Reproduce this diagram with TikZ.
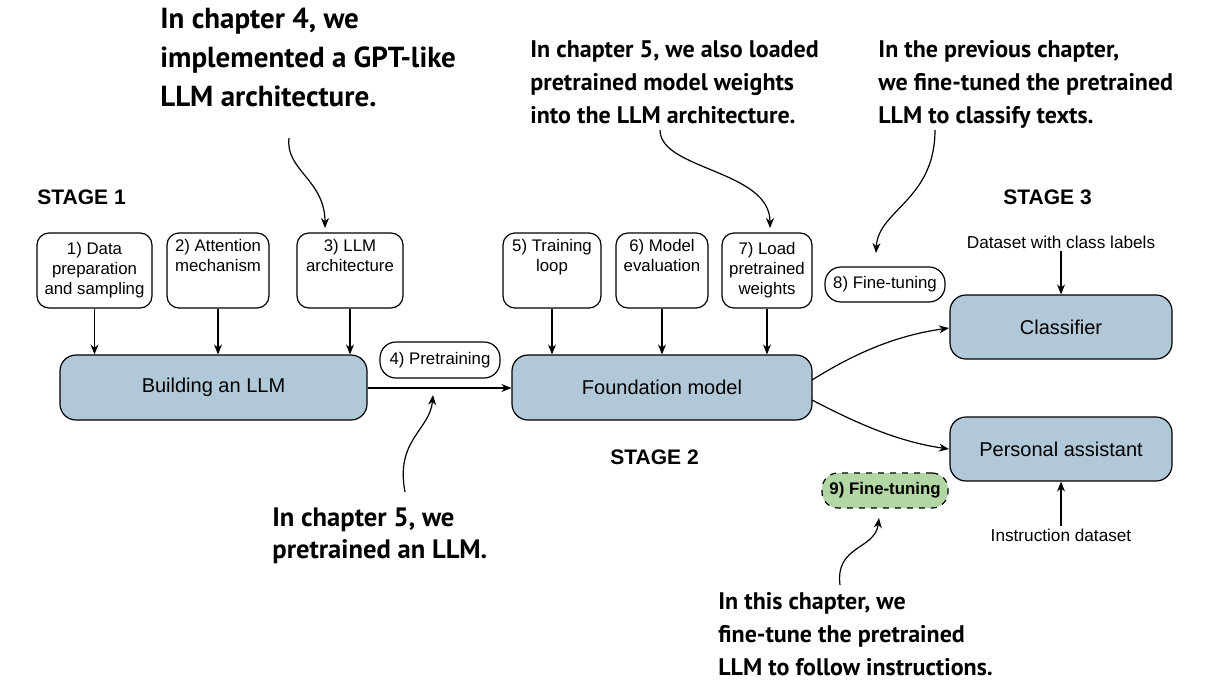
\documentclass[tikz,border=0pt]{standalone}
\usepackage{fontspec}
\setmainfont{Liberation Sans}
\newfontfamily\annf{PT Sans}
\usetikzlibrary{arrows.meta}
\begin{document}
\begin{tikzpicture}[x=0.5pt,y=-0.5pt,
 sbox/.style={draw,rounded corners=6pt,fill=white,align=center,font=\fontsize{8.4}{10}\selectfont,inner sep=1pt,line width=0.6pt},
 bbox/.style={draw,rounded corners=8pt,fill={rgb,255:red,176;green,200;blue,216},align=center,font=\fontsize{10}{12}\selectfont,line width=0.6pt},
 ann/.style={align=left,anchor=north west,font=\annf\bfseries\fontsize{12}{16.5}\selectfont,inner sep=0pt},
 stg/.style={font=\bfseries\fontsize{10.5}{12}\selectfont,anchor=west,inner sep=0pt},
 arr/.style={-{Stealth[length=5pt,width=4pt]},line width=0.6pt},
 lbl/.style={font=\fontsize{8.6}{10}\selectfont,inner sep=1pt}]
\useasboundingbox (0,0) rectangle (1210,686);
% annotations
\node[ann,font=\annf\bfseries\fontsize{14.5}{19.5}\selectfont] (a1) at (160,8) {In chapter 4, we\\implemented a GPT-like\\LLM architecture.};
\node[ann] (a2) at (530,40) {In chapter 5, we also loaded\\pretrained model weights\\into the LLM architecture.};
\node[ann] (a3) at (878,40) {In the previous chapter,\\we fine-tuned the pretrained\\LLM to classify texts.};
\node[ann,font=\annf\bfseries\fontsize{13.3}{16}\selectfont] (a4) at (272,507) {In chapter 5, we\\pretrained an LLM.};
\node[ann] (a5) at (718,592) {In this chapter, we\\fine-tune the pretrained\\LLM to follow instructions.};
% stages
\node[stg] (s1) at (37,197) {STAGE 1};
\node[stg] (s2) at (610,457) {STAGE 2};
\node[stg] (s3) at (1003,197) {STAGE 3};
% small boxes
\node[sbox,minimum width=57.5pt,minimum height=37.5pt] (b1) at (94.5,270.5) {1) Data\\preparation\\and sampling};
\node[sbox,minimum width=51pt,minimum height=37.5pt] (b2) at (218,270.5) {2) Attention\\mechanism\\[5pt]};
\node[sbox,minimum width=53pt,minimum height=37.5pt] (b3) at (350,270.5) {3) LLM\\architecture\\[5pt]};
\node[sbox,minimum width=49pt,minimum height=37.5pt] (b5) at (552,270.5) {5) Training\\loop\\[5pt]};
\node[sbox,minimum width=46pt,minimum height=37.5pt] (b6) at (662,270.5) {6) Model\\evaluation\\[5pt]};
\node[sbox,minimum width=45pt,minimum height=37.5pt] (b7) at (767,270.5) {7) Load\\pretrained\\weights};
\node[sbox,minimum width=60pt,minimum height=18pt,rounded corners=8pt] (b4) at (440,360) {4) Pretraining};
\node[sbox,minimum width=60pt,minimum height=17.5pt,rounded corners=8pt] (b8) at (885,284.5) {8) Fine-tuning};
\node[sbox,minimum width=63pt,minimum height=17.5pt,rounded corners=8pt,dashed,fill={rgb,255:red,178;green,214;blue,164},font=\bfseries\fontsize{8.4}{10}\selectfont] (b9) at (885,490.5) {9) Fine-tuning};
% big boxes
\node[bbox,minimum width=153.5pt,minimum height=32.5pt] (bl) at (213.5,387.5) {Building an LLM};
\node[bbox,minimum width=150pt,minimum height=32.5pt] (fm) at (662,387.5) {Foundation model};
\node[bbox,minimum width=111pt,minimum height=32pt] (cl) at (1061,327) {Classifier};
\node[bbox,minimum width=111pt,minimum height=32pt] (pa) at (1061,449) {Personal assistant};
\node[lbl] (dl) at (1061,242) {Dataset with class labels};
\node[lbl] (id) at (1061,535) {Instruction dataset};
% arrows
\draw[arr] (b1.south) -- (b1.south|-bl.north);
\draw[arr] (b2.south) -- (b2.south|-bl.north);
\draw[arr] (b3.south) -- (b3.south|-bl.north);
\draw[arr] (b5.south) -- (b5.south|-fm.north);
\draw[arr] (b6.south) -- (b6.south|-fm.north);
\draw[arr] (b7.south) -- (b7.south|-fm.north);
\draw[arr] (bl.east|-0,388) -- (fm.west|-0,388);
\draw[arr] (dl.south) -- (dl.south|-cl.north);
\draw[arr] (id.north) -- (id.north|-pa.south);
\coordinate (f1) at (812,380); \coordinate (c1) at (949,328);
\coordinate (f2) at (812,400); \coordinate (c2) at (949,449);
\draw[arr] (f1) .. controls (860,350) and (900,335) .. (c1);
\draw[arr] (f2) .. controls (860,425) and (900,442) .. (c2);
\coordinate (t1) at (289,138); \coordinate (h1) at (325,228);
\draw[arr] (t1) .. controls (285,170) and (325,180) .. (h1);
\coordinate (t2) at (660,130); \coordinate (h2) at (770,228);
\draw[arr] (t2) .. controls (660,170) and (770,170) .. (h2);
\coordinate (t3) at (935,130); \coordinate (h3) at (876,253);
\draw[arr] (t3) .. controls (935,200) and (878,210) .. (h3);
\coordinate (t4) at (405,492); \coordinate (h4) at (433,395);
\draw[arr] (t4) .. controls (395,440) and (430,430) .. (h4);
\coordinate (t5) at (840,585); \coordinate (h5) at (879,518);
\draw[arr] (t5) .. controls (835,545) and (875,550) .. (h5);
\end{tikzpicture}
\end{document}
